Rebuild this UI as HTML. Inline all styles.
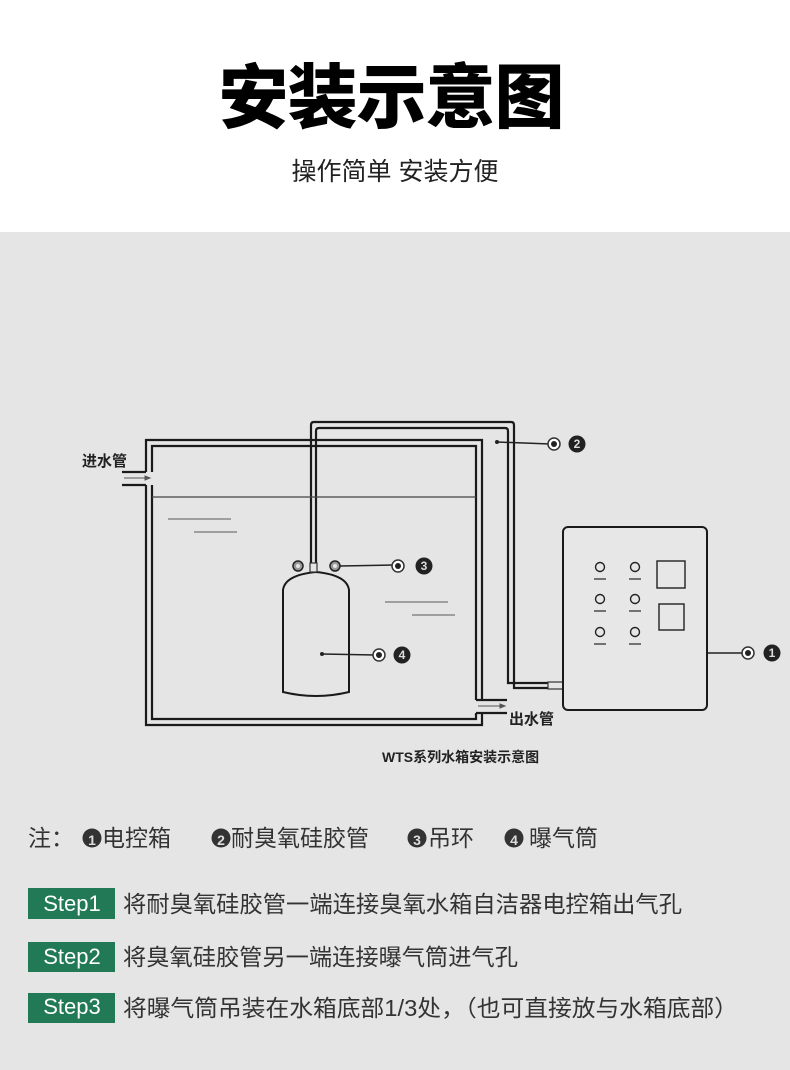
<!DOCTYPE html>
<html><head><meta charset="utf-8"><style>
html,body{margin:0;padding:0;background:#fff;}
body{width:790px;height:1070px;overflow:hidden;position:relative;font-family:"Liberation Sans","Noto Sans CJK SC",sans-serif;}
</style></head><body>
<svg width="790" height="1070" viewBox="0 0 790 1070" xmlns="http://www.w3.org/2000/svg" style="position:absolute;left:0;top:0">
<rect x="0" y="0" width="790" height="232" fill="#ffffff"/>
<rect x="0" y="232" width="790" height="838" fill="#e5e5e5"/>
<text x="391" y="122" text-anchor="middle" font-family="Liberation Sans, Noto Sans CJK SC, sans-serif" font-weight="900" font-size="70" fill="#000" letter-spacing="-1">安装示意图</text>
<text x="395" y="180" text-anchor="middle" font-family="Liberation Sans, Noto Sans CJK SC, sans-serif" font-size="25" fill="#222">操作简单 安装方便</text>

<g fill="none" stroke="#1a1a1a" stroke-width="2.2">
<polyline points="146,472 146,440 482,440 482,700"/>
<polyline points="146,485 146,725 482,725 482,713"/>
<polyline points="152,472 152,446 476,446 476,700"/>
<polyline points="152,485 152,719 476,719 476,713"/>
<line x1="122" y1="472" x2="146" y2="472"/>
<line x1="122" y1="485" x2="146" y2="485"/>
<line x1="476" y1="700" x2="507" y2="700"/>
<line x1="476" y1="713" x2="507" y2="713"/>
<path d="M311,563 L311,425 Q311,422 314,422 L511,422 Q514,422 514,425 L514,688 L548,688"/>
<path d="M316,563 L316,431 Q316,428 319,428 L505,428 Q508,428 508,431 L508,683 L548,683"/>
</g>
<rect x="548" y="682" width="15" height="7" fill="#e5e5e5" stroke="#333" stroke-width="1.2"/>
<line x1="152" y1="497" x2="476" y2="497" stroke="#444" stroke-width="1.2"/>
<g stroke="#888" stroke-width="1.6">
<line x1="168" y1="519" x2="231" y2="519"/>
<line x1="194" y1="532" x2="237" y2="532"/>
<line x1="385" y1="602" x2="448" y2="602"/>
<line x1="412" y1="615" x2="455" y2="615"/>
</g>
<g stroke="#555" stroke-width="1" fill="#555">
<line x1="124" y1="478" x2="148" y2="478"/><polygon points="150,478 145,476 145,480"/>
<line x1="478" y1="706" x2="502" y2="706"/><polygon points="505,706 500,704 500,708"/>
</g>
<text x="82" y="466" font-size="15" font-weight="bold" fill="#222" font-family="Liberation Sans, Noto Sans CJK SC, sans-serif">进水管</text>
<text x="509" y="724" font-size="15" font-weight="bold" fill="#222" font-family="Liberation Sans, Noto Sans CJK SC, sans-serif">出水管</text>
<text x="382" y="762" font-size="14" font-weight="bold" fill="#222" font-family="Liberation Sans, Noto Sans CJK SC, sans-serif">WTS系列水箱安装示意图</text>

<path d="M283,692 L283,590 Q285,575 316,572 Q347,575 349,590 L349,692 Q316,700 283,692 Z" fill="#e5e5e5" stroke="#1a1a1a" stroke-width="2"/>
<rect x="310" y="563" width="7" height="9" fill="#e5e5e5" stroke="#333" stroke-width="1.2"/>
<g fill="#999" stroke="#222" stroke-width="1.5">
<circle cx="298" cy="566" r="5"/><circle cx="335" cy="566" r="5"/>
</g>
<circle cx="298" cy="566" r="2" fill="#e5e5e5"/><circle cx="335" cy="566" r="2" fill="#e5e5e5"/>

<g stroke="#222" stroke-width="1.5">
<line x1="340" y1="566" x2="394" y2="565"/>
<line x1="322" y1="654" x2="375" y2="655"/>
<line x1="497" y1="442" x2="550" y2="444"/>
<line x1="685" y1="653" x2="744" y2="653"/>
</g>
<g fill="#222">
<circle cx="322" cy="654" r="2"/><circle cx="497" cy="442" r="2"/><circle cx="685" cy="653" r="2.2"/>
</g>
<g fill="#fff" stroke="#333" stroke-width="1.5">
<circle cx="398" cy="566" r="6"/><circle cx="379" cy="655" r="6"/><circle cx="554" cy="444" r="6"/><circle cx="748" cy="653" r="6"/>
</g>
<g fill="#222">
<circle cx="398" cy="566" r="3"/><circle cx="379" cy="655" r="3"/><circle cx="554" cy="444" r="3"/><circle cx="748" cy="653" r="3"/>
<circle cx="424" cy="566" r="8.5"/><circle cx="402" cy="655" r="8.5"/><circle cx="577" cy="444" r="8.5"/><circle cx="772" cy="653" r="8.5"/>
</g>
<g fill="#ddd" font-size="12" font-weight="bold" text-anchor="middle" font-family="Liberation Sans, sans-serif">
<text x="424" y="570">3</text><text x="402" y="659">4</text><text x="577" y="448">2</text><text x="772" y="657">1</text>
</g>

<rect x="563" y="527" width="144" height="183" rx="5" fill="#e7e7e7" stroke="#1a1a1a" stroke-width="2"/>
<g fill="none" stroke="#222" stroke-width="1.4">
<circle cx="600" cy="567" r="4.5"/><circle cx="635" cy="567" r="4.5"/>
<circle cx="600" cy="599" r="4.5"/><circle cx="635" cy="599" r="4.5"/>
<circle cx="600" cy="632" r="4.5"/><circle cx="635" cy="632" r="4.5"/>
<rect x="657" y="561" width="28" height="27"/>
<rect x="659" y="604" width="25" height="26"/>
</g>
<g stroke="#555" stroke-width="1.6">
<line x1="594" y1="579" x2="606" y2="579"/><line x1="629" y1="579" x2="641" y2="579"/>
<line x1="594" y1="611" x2="606" y2="611"/><line x1="629" y1="611" x2="641" y2="611"/>
<line x1="594" y1="644" x2="606" y2="644"/><line x1="629" y1="644" x2="641" y2="644"/>
</g>

<g font-family="Liberation Sans, Noto Sans CJK SC, sans-serif" font-size="23" fill="#333">
<text x="28" y="846">注：</text>
<circle cx="92" cy="838" r="9.5" fill="#333"/><text x="92" y="845" font-size="14" fill="#ddd" text-anchor="middle" font-weight="bold">1</text>
<text x="102" y="846">电控箱</text>
<circle cx="221" cy="838" r="9.5" fill="#333"/><text x="221" y="845" font-size="14" fill="#ddd" text-anchor="middle" font-weight="bold">2</text>
<text x="231" y="846">耐臭氧硅胶管</text>
<circle cx="417" cy="838" r="9.5" fill="#333"/><text x="417" y="845" font-size="14" fill="#ddd" text-anchor="middle" font-weight="bold">3</text>
<text x="428" y="846">吊环</text>
<circle cx="514" cy="838" r="9.5" fill="#333"/><text x="514" y="845" font-size="14" fill="#ddd" text-anchor="middle" font-weight="bold">4</text>
<text x="529" y="846">曝气筒</text>

<rect x="28" y="888" width="87" height="31" fill="#217a55"/>
<rect x="28" y="942" width="87" height="30" fill="#217a55"/>
<rect x="28" y="993" width="87" height="30" fill="#217a55"/>
<g fill="#fff" font-size="22" text-anchor="middle">
<text x="72" y="911">Step1</text><text x="72" y="964">Step2</text><text x="72" y="1014">Step3</text>
</g>
<text x="123" y="912" textLength="559" lengthAdjust="spacingAndGlyphs">将耐臭氧硅胶管一端连接臭氧水箱自洁器电控箱出气孔</text>
<text x="123" y="965" textLength="395" lengthAdjust="spacingAndGlyphs">将臭氧硅胶管另一端连接曝气筒进气孔</text>
<text x="123" y="1016" textLength="615" lengthAdjust="spacingAndGlyphs">将曝气筒吊装在水箱底部1/3处，（也可直接放与水箱底部）</text>
</g>
</svg>
</body></html>
